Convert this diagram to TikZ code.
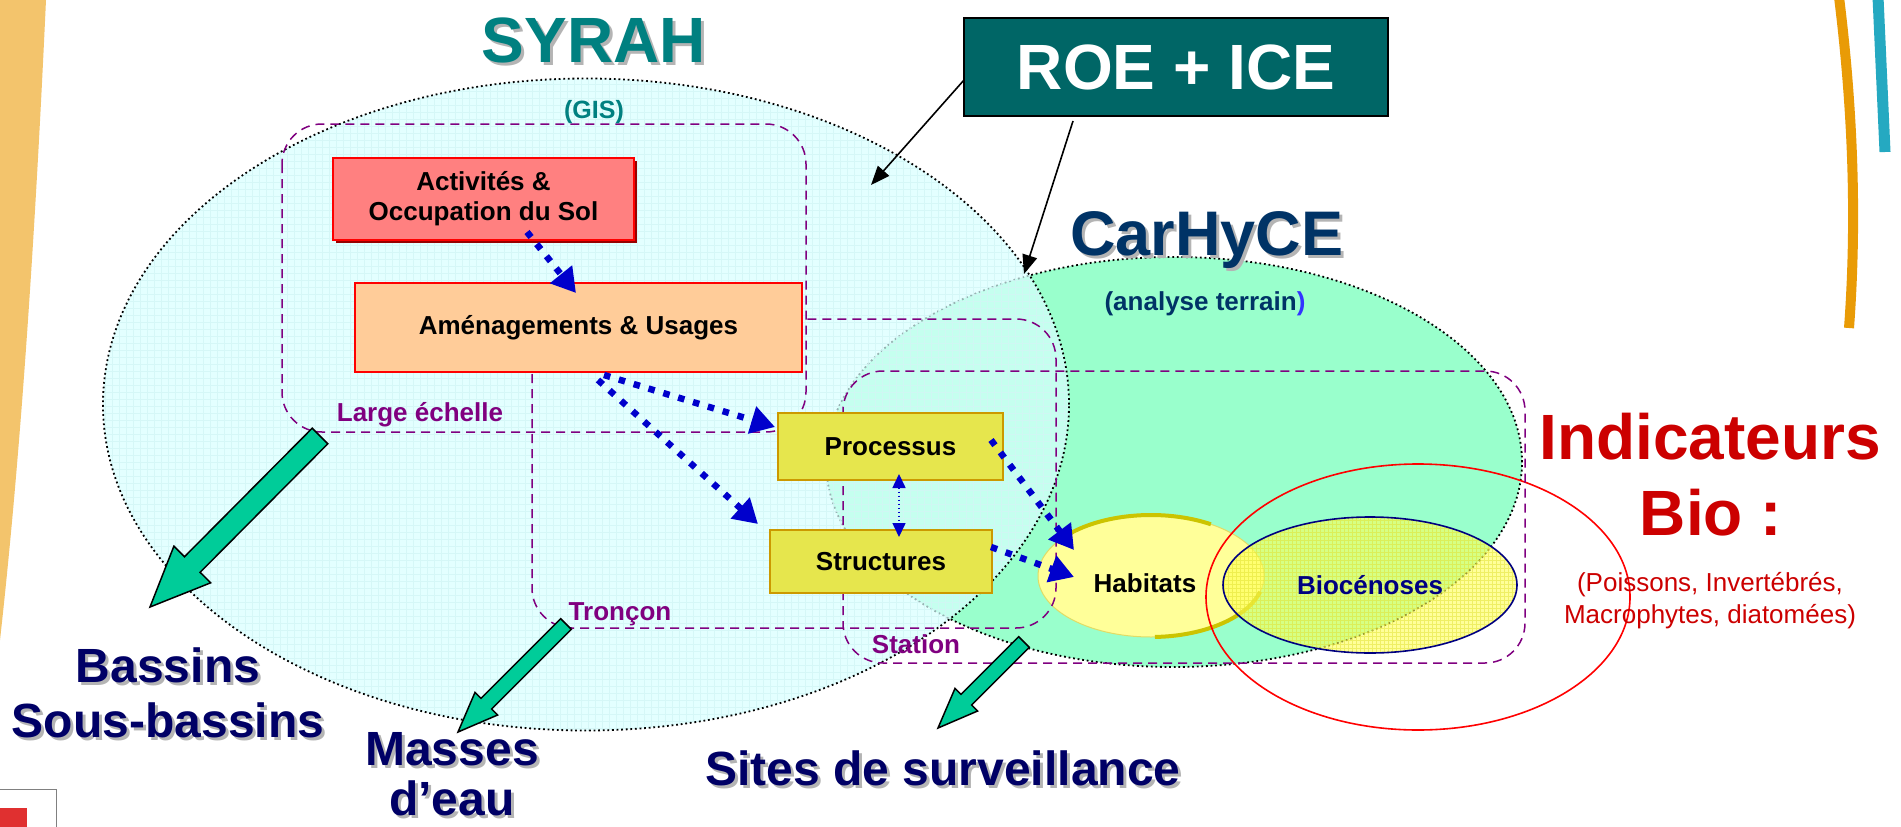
\documentclass[tikz,border=0pt]{standalone}
\usepackage{fontspec}
\setmainfont{Liberation Sans}
\usetikzlibrary{shapes.geometric,arrows.meta,shadows}

\definecolor{bandorange}{HTML}{F3C46C}
\definecolor{arcorange}{HTML}{E99B06}
\definecolor{tealstroke}{HTML}{25A9C1}
\definecolor{syrahfill}{HTML}{D8FFFF}
\definecolor{gridcyan}{HTML}{D2F5F5}
\definecolor{mint}{HTML}{99FFCC}
\definecolor{syrahteal}{HTML}{008080}
\definecolor{roefill}{HTML}{006666}
\definecolor{carnavy}{HTML}{003366}
\definecolor{parenblue}{HTML}{3333FF}
\definecolor{scalepurple}{HTML}{800080}
\definecolor{actfill}{HTML}{FF8080}
\definecolor{actshadow}{HTML}{990000}
\definecolor{amenfill}{HTML}{FFCC99}
\definecolor{procfill}{HTML}{E6E64D}
\definecolor{procedge}{HTML}{CC9900}
\definecolor{habfill}{HTML}{FFFF99}
\definecolor{habedge}{HTML}{CCC400}
\definecolor{bioyellow}{HTML}{FFFF55}
\definecolor{biogrid}{HTML}{E0E030}
\definecolor{bionavy}{HTML}{000080}
\definecolor{indred}{HTML}{FF0000}
\definecolor{textred}{HTML}{CC0000}
\definecolor{arrowblue}{HTML}{0000CC}
\definecolor{fatgreen}{HTML}{00CC99}
\definecolor{labelnavy}{HTML}{000066}
\definecolor{shadowgray}{HTML}{B4B4B4}
\definecolor{logored}{HTML}{E03030}

% text with a soft grey drop shadow
\newcommand{\shadowed}[1]{\leavevmode\rlap{\kern3pt\raisebox{-3pt}{\color{shadowgray}#1}}#1}

\begin{document}
\begin{tikzpicture}[x=1pt,y=-1pt,
  every node/.style={inner sep=0pt,outer sep=0pt},
  dotline/.style={draw=black,line width=1.8pt,dash pattern=on 1.8pt off 2.8pt},
  zoneframe/.style={draw=scalepurple,line width=1.5pt,dash pattern=on 9pt off 6pt,rounded corners=40pt},
  zonelabel/.style={anchor=base,text=scalepurple,font=\fontsize{26}{30}\selectfont\bfseries},
  boxtext/.style={font=\fontsize{26}{30}\selectfont\bfseries,align=center,line width=2pt},
  yellowbox/.style={boxtext,fill=procfill,draw=procedge},
  bluedot/.style={draw=arrowblue,line width=6.5pt,dash pattern=on 6.5pt off 9pt,
    -{Triangle[length=24pt,width=27pt]}},
  bluethin/.style={draw=arrowblue,line width=1.6pt,dash pattern=on 1.6pt off 2.4pt,
    {Triangle[length=14pt,width=13pt]}-{Triangle[length=14pt,width=13pt]}},
  blackarrow/.style={draw=black,line width=1.6pt,-{Triangle[length=19pt,width=15pt]}},
  fatarrow/.style={fill=fatgreen,draw=black,line width=1.5pt,line join=miter},
  biglabel/.style={anchor=base,text=labelnavy,font=\fontsize{48}{54}\selectfont\bfseries},
  redtext/.style={anchor=base,text=textred}]

\useasboundingbox (0,0) rectangle (1901,827);
\fill[white] (0,0) rectangle (1901,827);

% page decorations
\fill[bandorange] (0,0) -- (46,0) .. controls (34,260) and (19,470) .. (0,640) -- cycle;
\draw[arcorange,line width=10pt] (1839,-3) .. controls (1853,110) and (1857,220) .. (1849,328);
\draw[tealstroke,line width=11pt] (1878,-3) -- (1885,152);
\draw[gray,line width=1pt] (-1,789) -- (56,789) -- (56,830);
\fill[logored] (0,808) rectangle (27,827);

% CarHyCE field analysis domain
\node[ellipse,minimum width=696pt,minimum height=410pt,fill=mint,dotline] (carhyce) at (1174,462) {};

% SYRAH GIS domain (translucent, gridded)
\fill[syrahfill,fill opacity=0.7] (586,404.5) ellipse [x radius=483pt,y radius=326pt];
\begin{scope}
  \clip (586,404.5) ellipse [x radius=483pt,y radius=326pt];
  \draw[gridcyan,line width=0.4pt,step=7pt,opacity=0.8] (100,70) grid (1075,735);
\end{scope}
\node[ellipse,minimum width=966pt,minimum height=652pt,dotline] (syrah) at (586,404.5) {};

% habitats
\node[ellipse,minimum width=226pt,minimum height=122pt,fill=habfill,draw=habedge!60,line width=1pt] (hab) at (1151,576) {};
\draw[habedge,line width=4pt] (hab.center) ++(137:113pt and 61pt) arc[start angle=137,end angle=58,x radius=113pt,y radius=61pt];
\draw[habedge,line width=4pt] (hab.center) ++(-88:113pt and 61pt) arc[start angle=-88,end angle=-15,x radius=113pt,y radius=61pt];

% biocenoses (translucent, gridded)
\fill[bioyellow,fill opacity=0.6] (1370,585) ellipse [x radius=147pt,y radius=68pt];
\begin{scope}
  \clip (1370,585) ellipse [x radius=147pt,y radius=68pt];
  \draw[biogrid,line width=0.4pt,step=4pt,opacity=0.5] (1220,515) grid (1520,655);
\end{scope}
\node[ellipse,minimum width=294pt,minimum height=136pt,draw=bionavy,line width=1.6pt,
  font=\fontsize{26}{30}\selectfont\bfseries,text=bionavy] (bio) at (1370,585) {Biocénoses};

% biological indicators
\node[ellipse,minimum width=424pt,minimum height=266pt,draw=indred,line width=1.6pt] (indic) at (1418,597) {};

% scale frames
\draw[zoneframe] (282,124) rectangle (806,432);
\draw[zoneframe] (532,319) rectangle (1056,628);
\draw[zoneframe] (843,371) rectangle (1525,663);
\node[zonelabel] (largeT) at (420,421) {Large échelle};
\node[zonelabel] (tronconT) at (620,620) {Tronçon};
\node[zonelabel] (stationT) at (916,653) {Station};

% boxes
\node[boxtext,fill=actfill,draw=red,minimum width=301pt,minimum height=82pt,
  drop shadow={shadow xshift=3pt,shadow yshift=-3pt,fill=actshadow,opacity=1}] (act) at (483.5,199) {Activités \&\\Occupation du Sol};
\node[boxtext,fill=amenfill,draw=red,minimum width=447pt,minimum height=89pt] (amen) at (578.5,327.5) {Aménagements \& Usages};
\node[yellowbox,minimum width=225pt,minimum height=67pt] (proc) at (890.5,446.5) {Processus};
\node[yellowbox,minimum width=222pt,minimum height=63pt] (struc) at (881,561.5) {Structures};
\node[anchor=base,font=\fontsize{26}{30}\selectfont\bfseries] (habT) at (1145,592) {Habitats};

\node[fill=roefill,draw=black,line width=2pt,minimum width=424pt,minimum height=98pt,
  text=white,font=\fontsize{64}{70}\selectfont\bfseries] (roe) at (1176,67) {ROE + ICE};

% titles
\node[anchor=base,text=syrahteal,font=\fontsize{64}{70}\selectfont\bfseries] (syrahT) at (594,62) {\shadowed{SYRAH}};
\node[anchor=base,text=syrahteal,font=\fontsize{25}{30}\selectfont\bfseries] (gisT) at (594,118) {(GIS)};
\node[anchor=base,text=carnavy,font=\fontsize{63}{70}\selectfont\bfseries] (carhyceT) at (1207,255) {\shadowed{CarHyCE}};
\node[anchor=base,text=carnavy,font=\fontsize{26}{30}\selectfont\bfseries] (terrainT) at (1205,310) {(analyse terrain\textcolor{parenblue}{)}};

\node[redtext,font=\fontsize{64}{70}\selectfont\bfseries] (indT) at (1710,459) {Indicateurs};
\node[redtext,font=\fontsize{64}{70}\selectfont\bfseries] (bioT) at (1711,535) {Bio :};
\node[redtext,font=\fontsize{26}{30}\selectfont] (listA) at (1710,591) {(Poissons, Invertébrés,};
\node[redtext,font=\fontsize{26}{30}\selectfont] (listB) at (1710,623) {Macrophytes, diatomées)};

% spatial units
\node[biglabel] (bassinsT) at (168,682) {\shadowed{Bassins}};
\node[biglabel] (sousT) at (168,737) {\shadowed{Sous-bassins}};
\node[biglabel] (massesT) at (452,765) {\shadowed{Masses}};
\node[biglabel] (eauT) at (452,815) {\shadowed{d’eau}};
\node[biglabel] (sitesT) at (943,785) {\shadowed{Sites de surveillance}};

% blue dotted links
\draw[bluedot] ([shift={(43.5,33)}]act.center) -- ([shift={(-2.5,-34.5)}]amen.center);
\draw[bluedot] ([shift={(25.5,47.5)}]amen.center) -- ([shift={(-115.5,-19.5)}]proc.center);
\draw[bluedot] ([shift={(19.5,52.5)}]amen.center) -- ([shift={(-123,-37.5)}]struc.center);
\draw[bluedot] ([shift={(100.5,-6.5)}]proc.center) -- ([shift={(-77,-26)}]hab.center);
\draw[bluedot] ([shift={(110,-14.5)}]struc.center) -- ([shift={(-77,1)}]hab.center);
\draw[bluethin] ([shift={(8.5,27.5)}]proc.center) -- ([shift={(18,-24.5)}]struc.center);

% ROE + ICE pointers
\draw[blackarrow] ([shift={(-212,13)}]roe.center) -- ([shift={(285,-219.5)}]syrah.center);
\draw[blackarrow] ([shift={(-103,54)}]roe.center) -- ([shift={(-150,-188)}]carhyce.center);

% scale outputs
\draw[fatarrow] (327.8,443.8) -- (200.1,572.3) -- (210.7,582.8) -- (150,607) -- (173.9,546.2) -- (184.5,556.7) -- (312.2,428.2) -- cycle;
\draw[fatarrow] (571.3,629.3) -- (491.6,709) -- (497.6,715) -- (458,732) -- (475,692.4) -- (481,698.4) -- (560.7,618.7) -- cycle;
\draw[fatarrow] (1029.3,647.3) -- (971.6,705) -- (977.6,711) -- (938,728) -- (955,688.4) -- (961,694.4) -- (1018.7,636.7) -- cycle;

\end{tikzpicture}
\end{document}
